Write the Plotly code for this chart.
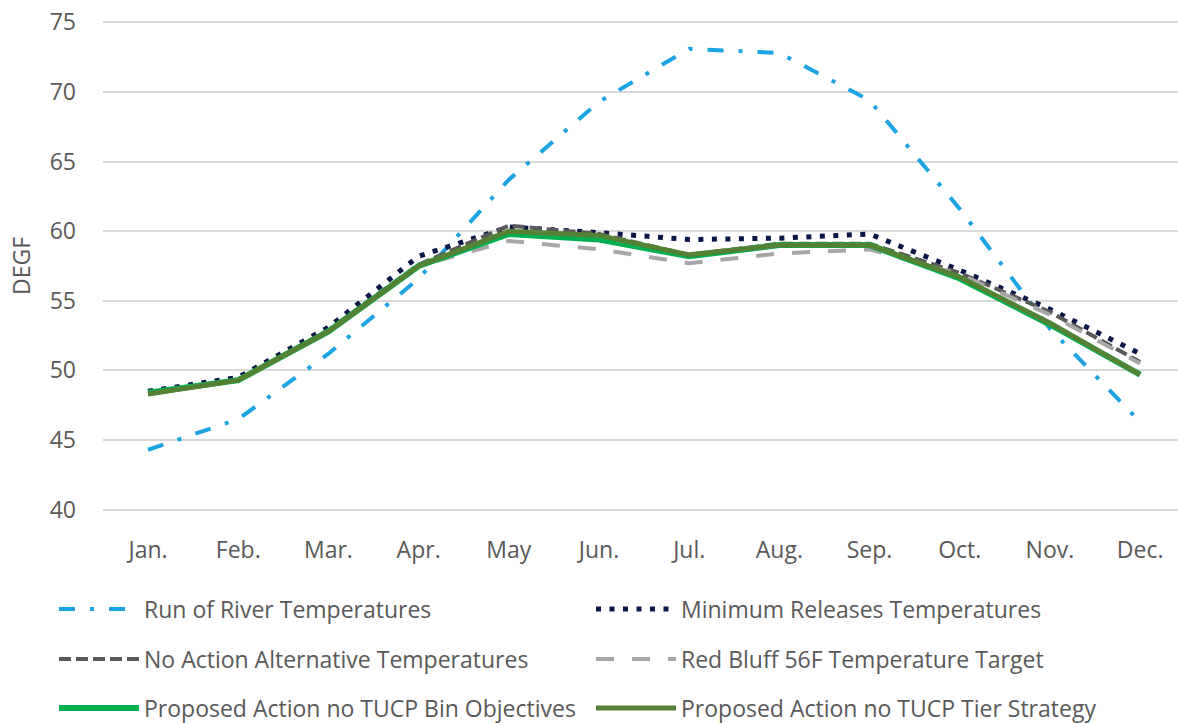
import plotly.graph_objects as go

months = ["Jan.", "Feb.", "Mar.", "Apr.", "May", "Jun.", "Jul.", "Aug.", "Sep.", "Oct.", "Nov.", "Dec."]
run_of_river = [44.3, 46.5, 51.2, 56.6, 63.7, 69.3, 73.1, 72.8, 69.4, 61.6, 53.0, 46.3]
min_releases = [48.5, 49.5, 53.1, 58.2, 60.3, 59.9, 59.4, 59.5, 59.8, 57.2, 54.4, 51.2]
no_action = [48.3, 49.3, 52.9, 57.6, 60.4, 59.8, 58.3, 59.1, 59.1, 57.0, 54.2, 50.6]
red_bluff = [48.3, 49.3, 52.8, 57.5, 59.3, 58.7, 57.7, 58.4, 58.7, 56.9, 54.0, 50.5]
bin_obj = [48.4, 49.3, 52.8, 57.5, 59.8, 59.4, 58.2, 59.0, 59.0, 56.6, 53.3, 49.7]
tier_strat = [48.3, 49.3, 52.8, 57.5, 60.0, 59.7, 58.3, 59.0, 59.0, 56.7, 53.4, 49.7]
y_ticks = [40, 45, 50, 55, 60, 65, 70, 75]

W, H = 1178, 723
GREY = "#595959"
FONT = "Open Sans"
FS = 23

series = [
    ("Run of River Temperatures", run_of_river, "#1BA3E3", 4, "16px,15px,4px,15px", "legend"),
    ("Minimum Releases Temperatures", min_releases, "#0B1547", 5, "5px,8.5px", "legend2"),
    ("No Action Alternative Temperatures", no_action, "#595959", 4, "12px,5px", "legend3"),
    ("Red Bluff 56F Temperature Target", red_bluff, "#A6A6A6", 4, "18px,18px", "legend4"),
    ("Proposed Action no TUCP Bin Objectives", bin_obj, "#00B050", 6, "solid", "legend5"),
    ("Proposed Action no TUCP Tier Strategy", tier_strat, "#548235", 5, "solid", "legend6"),
]

fig = go.Figure()
for name, vals, color, width, dash, leg in series:
    fig.add_trace(go.Scatter(
        x=months, y=vals, name=name, mode="lines",
        line=dict(color=color, width=width, dash=dash),
        legend=leg,
    ))

col_x = [54, 591]
row_y = [609, 659, 708]
legend_layout = {}
for i, (_, _, _, _, _, leg) in enumerate(series):
    r, c = divmod(i, 2)
    legend_layout[leg] = dict(
        xref="container", yref="container",
        x=col_x[c] / W, y=1 - row_y[r] / H,
        xanchor="left", yanchor="middle",
        orientation="h", itemwidth=80,
        font=dict(family=FONT, size=FS, color=GREY),
        bgcolor="rgba(0,0,0,0)", borderwidth=0,
        itemclick=False, itemdoubleclick=False,
    )

fig.update_layout(
    width=W, height=H,
    margin=dict(l=103, r=0, t=21, b=212, autoexpand=False),
    paper_bgcolor="white", plot_bgcolor="white",
    font=dict(family=FONT, size=FS, color=GREY),
    showlegend=True,
    xaxis=dict(
        type="category", range=[-0.5, 11.42],
        showgrid=False, zeroline=False, showline=False,
        ticks="", ticklabelstandoff=23, automargin=False,
        tickfont=dict(family=FONT, size=FS, color=GREY),
    ),
    yaxis=dict(
        range=[39.9, 75.1], tickvals=y_ticks,
        showgrid=True, gridcolor="#D9D9D9", gridwidth=1.5,
        zeroline=False, showline=False, ticks="",
        ticklabelstandoff=26, ticklabeloverflow="allow", automargin=False,
        tickfont=dict(family=FONT, size=FS, color=GREY),
        title=dict(text="DEGF", font=dict(family=FONT, size=FS, color=GREY), standoff=12),
    ),
    **legend_layout,
)

fig.write_html(
    "out.html",
    config={"displayModeBar": False},
    post_script="document.body.style.margin='0';",
)
